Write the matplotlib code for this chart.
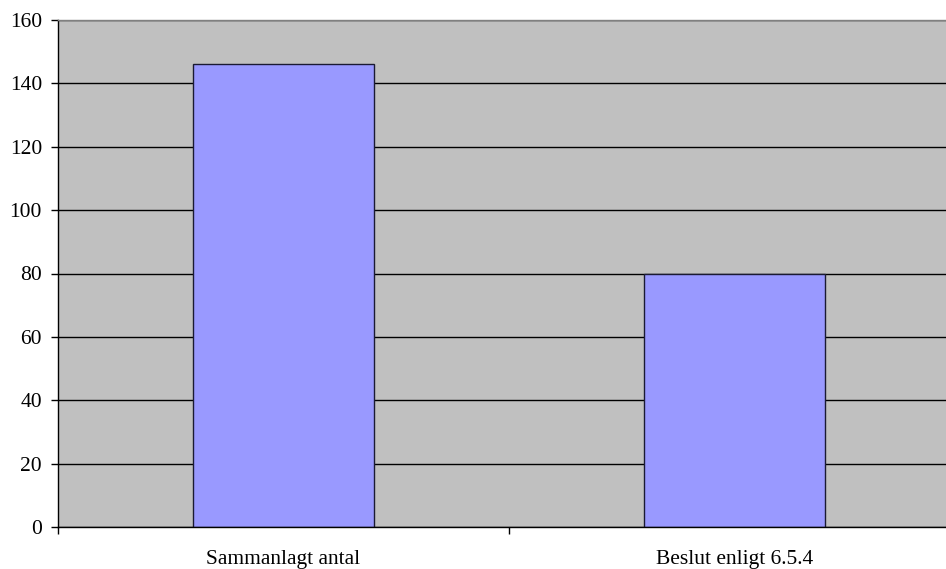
import matplotlib
matplotlib.use("Agg")
import matplotlib.pyplot as plt
from matplotlib.ticker import FixedLocator

categories = ["Sammanlagt antal", "Beslut enligt 6.5.4"]
values = [146, 80]
y_ticks = [0, 20, 40, 60, 80, 100, 120, 140, 160]

plt.rcParams["font.family"] = ["Liberation Serif", "DejaVu Serif"]

fig = plt.figure(figsize=(9.46, 5.69), dpi=100)
# plot area runs past the right edge of the figure
ax = fig.add_axes([58 / 946, 1 - 527 / 569, 902 / 946, 507 / 569])
ax.set_facecolor("#C0C0C0")

x = list(range(len(categories)))
ax.bar(x, values, width=0.4, color="#9999FF", edgecolor="#1a1a33",
       linewidth=1.0, zorder=3)

ax.set_xlim(-0.5, len(categories) - 0.5)
ax.set_ylim(0, 160)
ax.set_yticks(y_ticks)
ax.set_yticklabels([str(t) for t in y_ticks], fontsize=15.5)
ax.yaxis.grid(True, color="black", linewidth=1.0, zorder=1)
ax.set_axisbelow(True)

# category separators as major ticks, labels centred on minor ticks
ax.xaxis.set_major_locator(FixedLocator([i - 0.5 for i in range(len(categories) + 1)]))
ax.set_xticklabels([])
ax.xaxis.set_minor_locator(FixedLocator(x))
ax.set_xticklabels(categories, minor=True, fontsize=15.5)
ax.tick_params(axis="x", which="major", direction="out", length=5, width=1, color="black")
ax.tick_params(axis="x", which="minor", length=0, pad=16.5)
ax.tick_params(axis="y", direction="out", length=5, width=1, pad=6.5, color="black")

ax.spines["left"].set_color("black")
ax.spines["bottom"].set_color("black")
ax.spines["top"].set_color("#808080")
ax.spines["right"].set_visible(False)
for s in ax.spines.values():
    s.set_linewidth(1.0)
    s.set_zorder(4)

fig.savefig("out.png", dpi=100)
